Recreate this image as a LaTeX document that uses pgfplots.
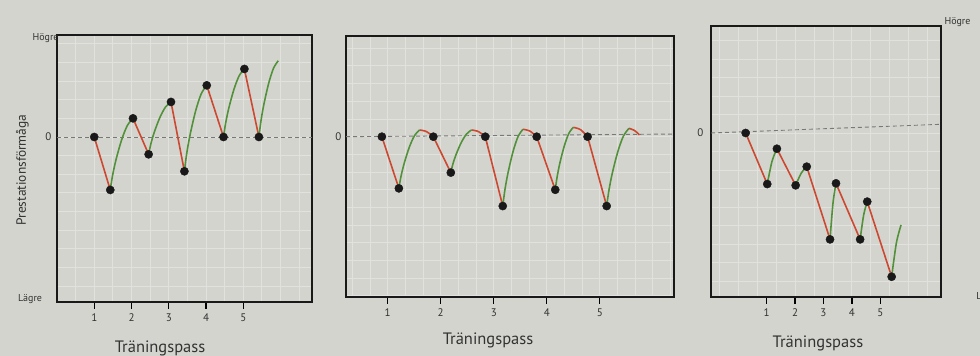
\documentclass[border=0pt]{standalone}
\usepackage{fontspec}
\setmainfont{PT Sans}
\usepackage{pgfplots}
\pgfplotsset{compat=1.18}
\definecolor{paper}{RGB}{212,212,207}
\definecolor{gridc}{RGB}{225,225,221}
\definecolor{redl}{RGB}{205,72,48}
\definecolor{greenl}{RGB}{82,145,58}
\definecolor{txt}{RGB}{50,50,50}
\definecolor{zline}{RGB}{120,120,120}

\pgfplotsset{
  panel/.style={
    scale only axis, anchor=south west,
    axis line style={black!90, line width=2pt},
    axis background/.style={fill=paper},
    xtick pos=bottom, ytick pos=left,
    tick align=outside,
    xtick={1,2,3,4,5},
    ytick={0}, yticklabels={0},
    major tick length=7pt,
    minor tick length=0pt,
    xtick style={black, line width=1.3pt},
    ytick style={draw=none},
    x tick label style={font=\fontsize{11}{13}\selectfont, text=txt, yshift=-1pt},
    y tick label style={font=\fontsize{11}{13}\selectfont, text=txt},
    /pgf/number format/assume math mode=true,
    xminorgrids, yminorgrids,
    minor grid style={gridc, line width=0.9pt},
    clip=false,
  },
  redseg/.style={redl, line width=1.6pt},
  greenseg/.style={greenl, line width=1.6pt, smooth},
  dots/.style={only marks, mark=*, mark size=4.1pt, black!90},
  zero/.style={zline, line width=0.9pt, dash pattern=on 4pt off 3pt},
}
\newcommand{\lbl}{\fontsize{10}{12}\selectfont}
\newcommand{\xlbl}{\fontsize{16.5}{19}\selectfont}

\begin{document}
\begin{tikzpicture}
\useasboundingbox (0pt,0pt) rectangle (980pt,356pt);
\clip (0pt,0pt) rectangle (980pt,356pt);
\fill[paper] (0pt,0pt) rectangle (980pt,356pt);

% ---------------- Panel 1 ----------------
\begin{axis}[panel, at={(57pt,54pt)}, width=255pt, height=267pt,
  xmin=0, xmax=6.845, ymin=-8.85, ymax=5.47,
  y tick label style={xshift=5pt},
  minor xtick={0.5,1,...,6.5},
  minor ytick={-8,-7,...,5}]
\addplot[zero] coordinates {(0,0) (6.845,0)};
\addplot[redseg] coordinates {(1,0) (1.43,-2.84)};
\addplot[redseg] coordinates {(2.04,1.0) (2.46,-0.93)};
\addplot[redseg] coordinates {(3.06,1.88) (3.42,-1.84)};
\addplot[redseg] coordinates {(4.02,2.77) (4.47,0)};
\addplot[redseg] coordinates {(5.03,3.65) (5.42,0)};
\addplot[greenseg] coordinates {(1.43,-2.84) (1.491,-2.072) (1.583,-1.227) (1.735,-0.152) (1.888,0.616) (2.04,1.0)};
\addplot[greenseg] coordinates {(2.46,-0.93) (2.52,-0.368) (2.61,0.250) (2.76,1.037) (2.91,1.599) (3.06,1.88)};
\addplot[greenseg] coordinates {(3.42,-1.84) (3.48,-0.918) (3.57,0.096) (3.72,1.387) (3.87,2.309) (4.02,2.77)};
\addplot[greenseg] coordinates {(4.47,0) (4.526,0.73) (4.61,1.533) (4.75,2.555) (4.89,3.285) (5.03,3.65)};
\addplot[greenseg] coordinates {(5.42,0) (5.472,0.818) (5.55,1.718) (5.68,2.863) (5.81,3.681) (5.94,4.09)};
\addplot[dots] coordinates {(1,0) (1.43,-2.84) (2.04,1.0) (2.46,-0.93) (3.06,1.88) (3.42,-1.84) (4.02,2.77) (4.47,0) (5.03,3.65) (5.42,0)};
\node[anchor=east, text=txt, font=\lbl] at (axis description cs:0.02,0.99) {Högre};
\node[anchor=east, text=txt, font=\lbl] at (axis description cs:-0.045,0.01) {Lägre};
\node[rotate=90, text=txt, font=\fontsize{13.4}{16}\selectfont] at (axis description cs:-0.136,0.494) {Prestationsförmåga};
\node[text=txt, font=\xlbl] at (axis description cs:0.404,-0.172) {Träningspass};
\end{axis}

% ---------------- Panel 2 ----------------
\begin{axis}[panel, at={(346pt,59pt)}, width=328pt, height=261pt,
  xmin=0.213, xmax=6.40, ymin=-9.06, ymax=5.69,
  y tick label style={xshift=6pt},
  minor xtick={0.3333,0.6667,1,1.3333,1.6667,2,2.3333,2.6667,3,3.3333,3.6667,4,4.3333,4.6667,5,5.3333,5.6667,6,6.3333},
  minor ytick={-9,-8,...,5}]
\addplot[zero] coordinates {(0.213,0) (6.40,0.15)};
\addplot[redseg] coordinates {(0.89,0) (1.21,-2.92)};
\addplot[redseg] coordinates {(1.86,0) (2.19,-2.03)};
\addplot[redseg] coordinates {(2.84,0) (3.17,-3.92)};
\addplot[redseg] coordinates {(3.81,0) (4.16,-3.0)};
\addplot[redseg] coordinates {(4.77,0) (5.13,-3.92)};
\addplot[redseg, smooth] coordinates {(1.60,0.38) (1.73,0.29) (1.86,0)};
\addplot[redseg, smooth] coordinates {(2.58,0.38) (2.71,0.29) (2.84,0)};
\addplot[redseg, smooth] coordinates {(3.55,0.42) (3.68,0.32) (3.81,0)};
\addplot[redseg, smooth] coordinates {(4.50,0.53) (4.635,0.40) (4.77,0)};
\addplot[redseg, smooth] coordinates {(5.55,0.47) (5.65,0.36) (5.75,0.1)};
\addplot[greenseg] coordinates {(1.21,-2.92) (1.249,-2.26) (1.308,-1.534) (1.405,-0.61) (1.503,0.05) (1.60,0.38)};
\addplot[greenseg] coordinates {(2.19,-2.03) (2.229,-1.548) (2.288,-1.018) (2.385,-0.343) (2.483,0.139) (2.58,0.38)};
\addplot[greenseg] coordinates {(3.17,-3.92) (3.208,-3.052) (3.265,-2.097) (3.36,-0.882) (3.455,-0.014) (3.55,0.42)};
\addplot[greenseg] coordinates {(4.16,-3.0) (4.194,-2.294) (4.245,-1.517) (4.33,-0.529) (4.415,0.177) (4.50,0.53)};
\addplot[greenseg] coordinates {(5.13,-3.92) (5.172,-3.042) (5.235,-2.076) (5.34,-0.847) (5.445,0.031) (5.55,0.47)};
\addplot[dots] coordinates {(0.89,0) (1.21,-2.92) (1.86,0) (2.19,-2.03) (2.84,0) (3.17,-3.92) (3.81,0) (4.16,-3.0) (4.77,0) (5.13,-3.92)};
\node[text=txt, font=\xlbl] at (axis description cs:0.433,-0.165) {Träningspass};
\end{axis}

% ---------------- Panel 3 ----------------
\begin{axis}[panel, at={(711pt,59pt)}, width=230pt, height=271pt,
  xmin=-0.96, xmax=7.137, ymin=-8.865, ymax=5.784,
  y tick label style={xshift=3pt},
  minor xtick={-0.6667,0,0.6667,1.3333,2,2.6667,3.3333,4,4.6667,5.3333,6,6.6667},
  minor ytick={-8,-7,...,5}]
\addplot[zero] coordinates {(-0.96,0) (7.137,0.47)};
\addplot[redseg] coordinates {(0.26,0) (1.02,-2.76)};
\addplot[redseg] coordinates {(1.36,-0.85) (2.02,-2.83)};
\addplot[redseg] coordinates {(2.41,-1.82) (3.23,-5.75)};
\addplot[redseg] coordinates {(3.44,-2.72) (4.29,-5.75)};
\addplot[redseg] coordinates {(4.54,-3.71) (5.40,-7.77)};
\addplot[greenseg] coordinates {(1.02,-2.76) (1.19,-1.518) (1.36,-0.85)};
\addplot[greenseg] coordinates {(2.02,-2.83) (2.215,-2.173) (2.41,-1.82)};
\addplot[greenseg] coordinates {(3.23,-5.75) (3.335,-3.78) (3.44,-2.72)};
\addplot[greenseg] coordinates {(4.29,-5.75) (4.415,-4.424) (4.54,-3.71)};
\addplot[greenseg] coordinates {(5.40,-7.77) (5.565,-5.95) (5.73,-4.97)};
\addplot[dots] coordinates {(0.26,0) (1.02,-2.76) (1.36,-0.85) (2.02,-2.83) (2.41,-1.82) (3.23,-5.75) (3.44,-2.72) (4.29,-5.75) (4.54,-3.71) (5.40,-7.77)};
\node[anchor=west, text=txt, font=\lbl] at (axis description cs:1.0,1.015) {Högre};
\node[anchor=west, text=txt, font=\lbl] at (axis description cs:1.138,0.0) {Lägre};
\node[text=txt, font=\xlbl] at (axis description cs:0.465,-0.17) {Träningspass};
\end{axis}
\end{tikzpicture}
\end{document}
